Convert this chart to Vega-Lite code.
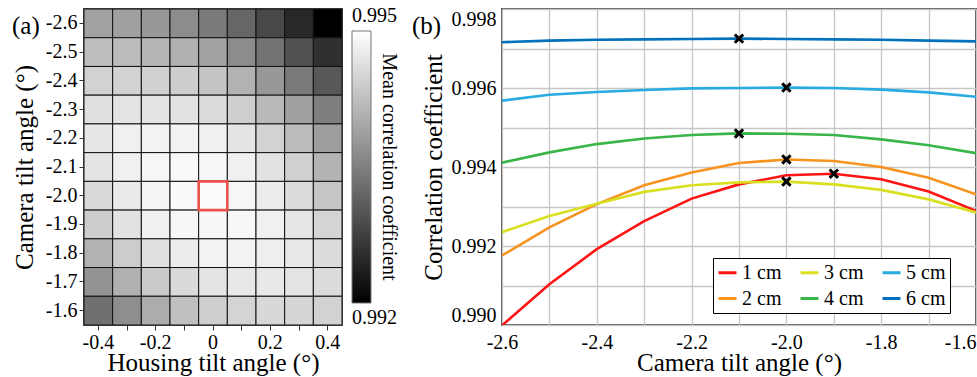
{
  "$schema": "https://vega.github.io/schema/vega-lite/v6.json",
  "padding": {"left": 11, "top": 7, "right": 0, "bottom": 0},
  "bounds": "flush",
  "spacing": 160,
  "config": {
    "locale": {"number": {"decimal": ".", "thousands": ",", "grouping": [3], "currency": ["$", ""], "minus": "-"}},
    "font": "Liberation Serif",
    "view": {"stroke": "#555", "strokeWidth": 2},
    "axis": {
      "labelFont": "Liberation Serif", "labelFontSize": 20, "labelColor": "black",
      "titleFont": "Liberation Serif", "titleFontSize": 25, "titleFontWeight": "normal", "titleColor": "black",
      "domain": false, "labelAngle": 0
    },
    "title": {"font": "Liberation Serif", "fontSize": 25, "fontWeight": "normal", "anchor": "start", "frame": "group", "offset": 0, "baseline": "alphabetic", "color": "black"}
  },
  "datasets": {
    "grid": [
      {"h": -0.4, "c": -2.6, "r": 0.99391}, {"h": -0.3, "c": -2.6, "r": 0.99388}, {"h": -0.2, "c": -2.6, "r": 0.99379}, {"h": -0.1, "c": -2.6, "r": 0.99365}, {"h": 0.0, "c": -2.6, "r": 0.99344}, {"h": 0.1, "c": -2.6, "r": 0.99320}, {"h": 0.2, "c": -2.6, "r": 0.99285}, {"h": 0.3, "c": -2.6, "r": 0.99247}, {"h": 0.4, "c": -2.6, "r": 0.99200},
      {"h": -0.4, "c": -2.5, "r": 0.99424}, {"h": -0.3, "c": -2.5, "r": 0.99421}, {"h": -0.2, "c": -2.5, "r": 0.99414}, {"h": -0.1, "c": -2.5, "r": 0.99407}, {"h": 0.0, "c": -2.5, "r": 0.99391}, {"h": 0.1, "c": -2.5, "r": 0.99365}, {"h": 0.2, "c": -2.5, "r": 0.99335}, {"h": 0.3, "c": -2.5, "r": 0.99297}, {"h": 0.4, "c": -2.5, "r": 0.99257},
      {"h": -0.4, "c": -2.4, "r": 0.99447}, {"h": -0.3, "c": -2.4, "r": 0.99447}, {"h": -0.2, "c": -2.4, "r": 0.99445}, {"h": -0.1, "c": -2.4, "r": 0.99441}, {"h": 0.0, "c": -2.4, "r": 0.99431}, {"h": 0.1, "c": -2.4, "r": 0.99409}, {"h": 0.2, "c": -2.4, "r": 0.99379}, {"h": 0.3, "c": -2.4, "r": 0.99344}, {"h": 0.4, "c": -2.4, "r": 0.99304},
      {"h": -0.4, "c": -2.3, "r": 0.99464}, {"h": -0.3, "c": -2.3, "r": 0.99468}, {"h": -0.2, "c": -2.3, "r": 0.99468}, {"h": -0.1, "c": -2.3, "r": 0.99466}, {"h": 0.0, "c": -2.3, "r": 0.99459}, {"h": 0.1, "c": -2.3, "r": 0.99442}, {"h": 0.2, "c": -2.3, "r": 0.99418}, {"h": 0.3, "c": -2.3, "r": 0.99388}, {"h": 0.4, "c": -2.3, "r": 0.99348},
      {"h": -0.4, "c": -2.2, "r": 0.99471}, {"h": -0.3, "c": -2.2, "r": 0.99482}, {"h": -0.2, "c": -2.2, "r": 0.99486}, {"h": -0.1, "c": -2.2, "r": 0.99486}, {"h": 0.0, "c": -2.2, "r": 0.99482}, {"h": 0.1, "c": -2.2, "r": 0.99468}, {"h": 0.2, "c": -2.2, "r": 0.99447}, {"h": 0.3, "c": -2.2, "r": 0.99421}, {"h": 0.4, "c": -2.2, "r": 0.99386},
      {"h": -0.4, "c": -2.1, "r": 0.99468}, {"h": -0.3, "c": -2.1, "r": 0.99482}, {"h": -0.2, "c": -2.1, "r": 0.99491}, {"h": -0.1, "c": -2.1, "r": 0.99493}, {"h": 0.0, "c": -2.1, "r": 0.99492}, {"h": 0.1, "c": -2.1, "r": 0.99482}, {"h": 0.2, "c": -2.1, "r": 0.99466}, {"h": 0.3, "c": -2.1, "r": 0.99445}, {"h": 0.4, "c": -2.1, "r": 0.99412},
      {"h": -0.4, "c": -2.0, "r": 0.99457}, {"h": -0.3, "c": -2.0, "r": 0.99477}, {"h": -0.2, "c": -2.0, "r": 0.99488}, {"h": -0.1, "c": -2.0, "r": 0.99494}, {"h": 0.0, "c": -2.0, "r": 0.99495}, {"h": 0.1, "c": -2.0, "r": 0.99489}, {"h": 0.2, "c": -2.0, "r": 0.99478}, {"h": 0.3, "c": -2.0, "r": 0.99459}, {"h": 0.4, "c": -2.0, "r": 0.99433},
      {"h": -0.4, "c": -1.9, "r": 0.99441}, {"h": -0.3, "c": -1.9, "r": 0.99466}, {"h": -0.2, "c": -1.9, "r": 0.99482}, {"h": -0.1, "c": -1.9, "r": 0.99491}, {"h": 0.0, "c": -1.9, "r": 0.99492}, {"h": 0.1, "c": -1.9, "r": 0.99491}, {"h": 0.2, "c": -1.9, "r": 0.99482}, {"h": 0.3, "c": -1.9, "r": 0.99471}, {"h": 0.4, "c": -1.9, "r": 0.99449},
      {"h": -0.4, "c": -1.8, "r": 0.99409}, {"h": -0.3, "c": -1.8, "r": 0.99440}, {"h": -0.2, "c": -1.8, "r": 0.99464}, {"h": -0.1, "c": -1.8, "r": 0.99478}, {"h": 0.0, "c": -1.8, "r": 0.99485}, {"h": 0.1, "c": -1.8, "r": 0.99485}, {"h": 0.2, "c": -1.8, "r": 0.99480}, {"h": 0.3, "c": -1.8, "r": 0.99473}, {"h": 0.4, "c": -1.8, "r": 0.99459},
      {"h": -0.4, "c": -1.7, "r": 0.99374}, {"h": -0.3, "c": -1.7, "r": 0.99407}, {"h": -0.2, "c": -1.7, "r": 0.99438}, {"h": -0.1, "c": -1.7, "r": 0.99457}, {"h": 0.0, "c": -1.7, "r": 0.99468}, {"h": 0.1, "c": -1.7, "r": 0.99473}, {"h": 0.2, "c": -1.7, "r": 0.99473}, {"h": 0.3, "c": -1.7, "r": 0.99468}, {"h": 0.4, "c": -1.7, "r": 0.99459},
      {"h": -0.4, "c": -1.6, "r": 0.99332}, {"h": -0.3, "c": -1.6, "r": 0.99367}, {"h": -0.2, "c": -1.6, "r": 0.99402}, {"h": -0.1, "c": -1.6, "r": 0.99426}, {"h": 0.0, "c": -1.6, "r": 0.99442}, {"h": 0.1, "c": -1.6, "r": 0.99449}, {"h": 0.2, "c": -1.6, "r": 0.99454}, {"h": 0.3, "c": -1.6, "r": 0.99452}, {"h": 0.4, "c": -1.6, "r": 0.99447}
    ],
    "curves": [
      {"s": "1 cm", "x": -2.6, "y": 0.98999}, {"s": "1 cm", "x": -2.5, "y": 0.99103}, {"s": "1 cm", "x": -2.4, "y": 0.99192}, {"s": "1 cm", "x": -2.3, "y": 0.99263}, {"s": "1 cm", "x": -2.2, "y": 0.99320}, {"s": "1 cm", "x": -2.1, "y": 0.99356}, {"s": "1 cm", "x": -2.0, "y": 0.99379}, {"s": "1 cm", "x": -1.9, "y": 0.99383}, {"s": "1 cm", "x": -1.8, "y": 0.99369}, {"s": "1 cm", "x": -1.7, "y": 0.99338}, {"s": "1 cm", "x": -1.6, "y": 0.99289},
      {"s": "2 cm", "x": -2.6, "y": 0.99176}, {"s": "2 cm", "x": -2.5, "y": 0.99247}, {"s": "2 cm", "x": -2.4, "y": 0.99306}, {"s": "2 cm", "x": -2.3, "y": 0.99354}, {"s": "2 cm", "x": -2.2, "y": 0.99386}, {"s": "2 cm", "x": -2.1, "y": 0.99410}, {"s": "2 cm", "x": -2.0, "y": 0.99419}, {"s": "2 cm", "x": -1.9, "y": 0.99415}, {"s": "2 cm", "x": -1.8, "y": 0.99400}, {"s": "2 cm", "x": -1.7, "y": 0.99373}, {"s": "2 cm", "x": -1.6, "y": 0.99331},
      {"s": "3 cm", "x": -2.6, "y": 0.99235}, {"s": "3 cm", "x": -2.5, "y": 0.99276}, {"s": "3 cm", "x": -2.4, "y": 0.99307}, {"s": "3 cm", "x": -2.3, "y": 0.99337}, {"s": "3 cm", "x": -2.2, "y": 0.99354}, {"s": "3 cm", "x": -2.1, "y": 0.99361}, {"s": "3 cm", "x": -2.0, "y": 0.99363}, {"s": "3 cm", "x": -1.9, "y": 0.99356}, {"s": "3 cm", "x": -1.8, "y": 0.99342}, {"s": "3 cm", "x": -1.7, "y": 0.99318}, {"s": "3 cm", "x": -1.6, "y": 0.99285},
      {"s": "4 cm", "x": -2.6, "y": 0.99411}, {"s": "4 cm", "x": -2.5, "y": 0.99437}, {"s": "4 cm", "x": -2.4, "y": 0.99458}, {"s": "4 cm", "x": -2.3, "y": 0.99472}, {"s": "4 cm", "x": -2.2, "y": 0.99481}, {"s": "4 cm", "x": -2.1, "y": 0.99485}, {"s": "4 cm", "x": -2.0, "y": 0.99484}, {"s": "4 cm", "x": -1.9, "y": 0.99481}, {"s": "4 cm", "x": -1.8, "y": 0.99470}, {"s": "4 cm", "x": -1.7, "y": 0.99455}, {"s": "4 cm", "x": -1.6, "y": 0.99435},
      {"s": "5 cm", "x": -2.6, "y": 0.99568}, {"s": "5 cm", "x": -2.5, "y": 0.99583}, {"s": "5 cm", "x": -2.4, "y": 0.99590}, {"s": "5 cm", "x": -2.3, "y": 0.99595}, {"s": "5 cm", "x": -2.2, "y": 0.99599}, {"s": "5 cm", "x": -2.1, "y": 0.99600}, {"s": "5 cm", "x": -2.0, "y": 0.99601}, {"s": "5 cm", "x": -1.9, "y": 0.99600}, {"s": "5 cm", "x": -1.8, "y": 0.99596}, {"s": "5 cm", "x": -1.7, "y": 0.99589}, {"s": "5 cm", "x": -1.6, "y": 0.99578},
      {"s": "6 cm", "x": -2.6, "y": 0.99716}, {"s": "6 cm", "x": -2.5, "y": 0.99720}, {"s": "6 cm", "x": -2.4, "y": 0.99722}, {"s": "6 cm", "x": -2.3, "y": 0.99723}, {"s": "6 cm", "x": -2.2, "y": 0.99724}, {"s": "6 cm", "x": -2.1, "y": 0.99725}, {"s": "6 cm", "x": -2.0, "y": 0.99724}, {"s": "6 cm", "x": -1.9, "y": 0.99723}, {"s": "6 cm", "x": -1.8, "y": 0.99722}, {"s": "6 cm", "x": -1.7, "y": 0.99720}, {"s": "6 cm", "x": -1.6, "y": 0.99718}
    ]
  },
  "hconcat": [
    {
      "width": 258,
      "height": 316,
      "title": {"text": "(a)", "dx": -72, "dy": 34},
      "data": {"name": "grid"},
      "encoding": {
        "x": {
          "field": "h", "type": "ordinal",
          "scale": {"paddingInner": 0, "paddingOuter": 0},
          "axis": {
            "title": "Housing tilt angle (°)",
            "labelExpr": "round(datum.value * 10) % 2 === 0 ? format(datum.value, '.1~f') : ''",
            "ticks": true, "tickSize": 5, "tickColor": "#333", "labelPadding": 2, "titlePadding": -2
          }
        },
        "y": {
          "field": "c", "type": "ordinal",
          "scale": {"paddingInner": 0, "paddingOuter": 0},
          "axis": {
            "title": "Camera tilt angle (°)",
            "labelExpr": "format(datum.value, '.1f')",
            "ticks": true, "tickSize": 5, "tickColor": "#333", "labelPadding": 2, "titlePadding": 8
          }
        }
      },
      "layer": [
        {
          "mark": {"type": "rect", "stroke": "#111", "strokeWidth": 1},
          "encoding": {
            "color": {
              "field": "r", "type": "quantitative",
              "scale": {"domain": [0.992, 0.995], "range": ["black", "white"], "interpolate": "rgb"},
              "legend": {
                "orient": "none", "legendX": 268, "legendY": 22,
                "title": "Mean correlation coefficient",
                "titleOrient": "right", "titleAngle": 270, "titleAnchor": "middle", "titleLimit": 500,
                "titleFont": "Liberation Serif", "titleFontSize": 20, "titleFontWeight": "normal", "titleColor": "black",
                "titlePadding": -18,
                "gradientLength": 272, "gradientThickness": 19,
                "gradientStrokeColor": "#777", "gradientStrokeWidth": 1,
                "values": [0.992, 0.995], "format": ".3f",
                "labelFont": "Liberation Serif", "labelFontSize": 20, "labelColor": "black",
                "padding": 0,
                "encode": {
                  "labels": {
                    "update": {
                      "x": {"value": 0},
                      "align": {"value": "left"},
                      "baseline": {"value": "alphabetic"},
                      "dy": {"signal": "datum.value > 0.9935 ? -9 : 21"}
                    }
                  }
                }
              }
            }
          }
        },
        {
          "transform": [
            {"joinaggregate": [{"op": "max", "field": "r", "as": "best"}]},
            {"filter": "datum.r === datum.best"}
          ],
          "mark": {"type": "rect", "fill": null, "stroke": "#e8524a", "strokeWidth": 2.6}
        }
      ]
    },
    {
      "width": 474,
      "height": 316,
      "title": {"text": "(b)", "dx": -90, "dy": 34},
      "data": {"name": "curves"},
      "encoding": {
        "x": {
          "field": "x", "type": "quantitative",
          "scale": {"domain": [-2.6, -1.6], "nice": false, "zero": false},
          "axis": {
            "title": "Camera tilt angle (°)",
            "values": [-2.6, -2.5, -2.4, -2.3, -2.2, -2.1, -2.0, -1.9, -1.8, -1.7, -1.6],
            "labelExpr": "round(datum.value * 10) % 2 === 0 ? format(datum.value, '.1f') : ''",
            "labelAlign": {"condition": {"test": "datum.value > -1.65", "value": "right"}, "value": "center"},
            "grid": true, "gridColor": "#c6c6c6", "gridWidth": 1.3,
            "ticks": false, "labelPadding": 7, "titlePadding": -2, "labelFlush": false
          }
        },
        "y": {
          "field": "y", "type": "quantitative",
          "scale": {"domain": [0.990, 0.998], "nice": false, "zero": false},
          "axis": {
            "title": "Correlation coefficient",
            "values": [0.990, 0.991, 0.992, 0.993, 0.994, 0.995, 0.996, 0.997, 0.998],
            "labelExpr": "round(datum.value * 1000) % 2 === 0 ? format(datum.value, '.3f') : ''",
            "grid": true, "gridColor": "#c6c6c6", "gridWidth": 1.3,
            "ticks": false, "labelPadding": 6, "titlePadding": 5, "labelFlush": true
          }
        }
      },
      "layer": [
        {
          "mark": {"type": "line", "strokeWidth": 2.6, "clip": true},
          "encoding": {
            "color": {
              "field": "s", "type": "nominal",
              "scale": {
                "domain": ["1 cm", "3 cm", "5 cm", "2 cm", "4 cm", "6 cm"],
                "range": ["#ff1414", "#d9e021", "#29abe2", "#f7931e", "#39b54a", "#0071bc"]
              },
              "legend": {
                "orient": "none", "legendX": 211, "legendY": 249,
                "title": null, "columns": 3, "direction": "horizontal",
                "symbolType": "stroke", "symbolStrokeWidth": 3, "symbolSize": 324,
                "labelFont": "Liberation Serif", "labelFontSize": 20, "labelColor": "black", "labelOffset": 4,
                "columnPadding": 12, "rowPadding": 5, "padding": 4,
                "strokeColor": "black", "fillColor": "white"
              }
            }
          }
        },
        {
          "transform": [
            {"joinaggregate": [{"op": "max", "field": "y", "as": "peak"}], "groupby": ["s"]},
            {"filter": "datum.y === datum.peak"}
          ],
          "mark": {"type": "point", "shape": "M-1,-1L1,1M1,-1L-1,1", "filled": false, "stroke": "black", "strokeWidth": 3, "size": 70, "opacity": 1}
        }
      ]
    }
  ]
}
